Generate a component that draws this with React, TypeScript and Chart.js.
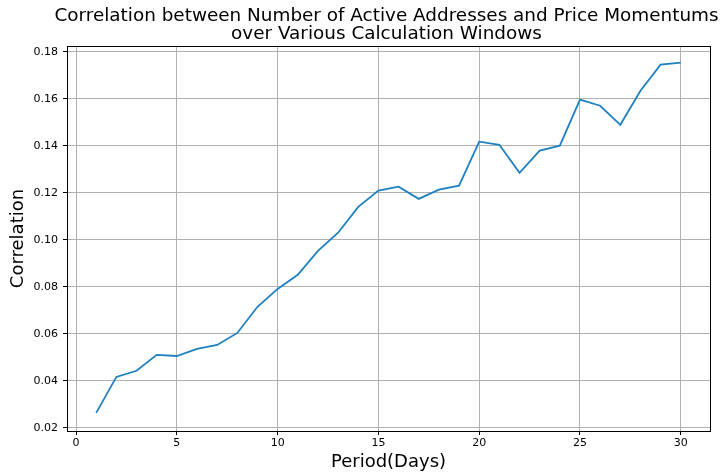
import React, { useEffect, useRef } from "react";
import { Chart, registerables } from "chart.js";

Chart.register(...registerables);

const periods: number[] = Array.from({ length: 30 }, (_, i) => i + 1);
const correlation: number[] = [
  0.0264, 0.0417, 0.0443, 0.0511, 0.0506, 0.0536, 0.0553, 0.0604, 0.0715, 0.0791,
  0.0851, 0.0953, 0.103, 0.114, 0.1209, 0.1226, 0.1174, 0.1213, 0.123, 0.1417,
  0.1404, 0.1285, 0.1379, 0.14, 0.1596, 0.157, 0.1489, 0.1634, 0.1745, 0.1753,
];
const xTicks: number[] = [0, 5, 10, 15, 20, 25, 30];
const yTicks: number[] = [0.02, 0.04, 0.06, 0.08, 0.1, 0.12, 0.14, 0.16, 0.18];
const titleLines: string[] = [
  "Correlation between Number of Active Addresses and Price Momentums",
  "over Various Calculation Windows",
];
const xLabel = "Period(Days)";
const yLabel = "Correlation";

const FONT = "'DejaVu Sans', sans-serif";

export default function App() {
  const ref = useRef<HTMLCanvasElement | null>(null);
  useEffect(() => {
    document.body.style.margin = "0";
    const canvas = ref.current!;
    const framePlugin = {
      id: "frame",
      afterDraw(chart: any) {
        const { ctx, chartArea } = chart;
        ctx.save();
        ctx.strokeStyle = "#000";
        ctx.lineWidth = 1;
        ctx.strokeRect(
          Math.round(chartArea.left) + 0.5,
          Math.round(chartArea.top) + 0.5,
          Math.round(chartArea.right - chartArea.left),
          Math.round(chartArea.bottom - chartArea.top)
        );
        ctx.fillStyle = "#000";
        ctx.font = `18.4px ${FONT}`;
        ctx.textAlign = "center";
        ctx.textBaseline = "alphabetic";
        const cx = (chartArea.left + chartArea.right) / 2 - 2;
        ctx.fillText(titleLines[0], cx, 21);
        ctx.fillText(titleLines[1], cx, 39);
        ctx.restore();
      },
    };
    const chart = new Chart(canvas, {
      type: "line",
      data: {
        datasets: [
          {
            data: periods.map((p, i) => ({ x: p, y: correlation[i] })),
            borderColor: "#1f80c0",
            borderWidth: 1.8,
            pointRadius: 0,
            fill: false,
            tension: 0,
          },
        ],
      },
      options: {
        animation: false,
        responsive: false,
        devicePixelRatio: 1,
        layout: { padding: { top: 46, right: 10, left: 0, bottom: 0 } },
        plugins: { legend: { display: false }, tooltip: { enabled: false }, title: { display: false } },
        scales: {
          x: {
            type: "linear",
            min: -0.45,
            max: 31.45,
            afterBuildTicks: (axis: any) => {
              axis.ticks = xTicks.map((v) => ({ value: v }));
            },
            afterFit: (axis: any) => {
              axis.height = 42;
            },
            grid: { color: "#b0b0b0", lineWidth: 1, drawTicks: true, tickLength: 4, tickColor: "#000" },
            border: { color: "#000", width: 1 },
            ticks: { color: "#000", font: { family: FONT, size: 11 }, padding: 2, maxRotation: 0, autoSkip: false },
            title: { display: true, text: xLabel, color: "#000", font: { family: FONT, size: 18 }, padding: { top: 0, bottom: 0 } },
          },
          y: {
            type: "linear",
            min: 0.0187,
            max: 0.1824,
            afterBuildTicks: (axis: any) => {
              axis.ticks = yTicks.map((v) => ({ value: v }));
            },
            afterFit: (axis: any) => {
              axis.width = 67;
            },
            grid: { color: "#b0b0b0", lineWidth: 1, drawTicks: true, tickLength: 4, tickColor: "#000" },
            border: { color: "#000", width: 1 },
            ticks: {
              color: "#000",
              font: { family: FONT, size: 11 },
              padding: 5,
              autoSkip: false,
              callback: (v: any) => Number(v).toFixed(2),
            },
            title: { display: true, text: yLabel, color: "#000", font: { family: FONT, size: 18 }, padding: { top: 8, bottom: 0 } },
          },
        },
      },
      plugins: [framePlugin],
    });
    return () => chart.destroy();
  }, []);
  return <canvas ref={ref} width={720} height={473} style={{ display: "block" }} />;
}
